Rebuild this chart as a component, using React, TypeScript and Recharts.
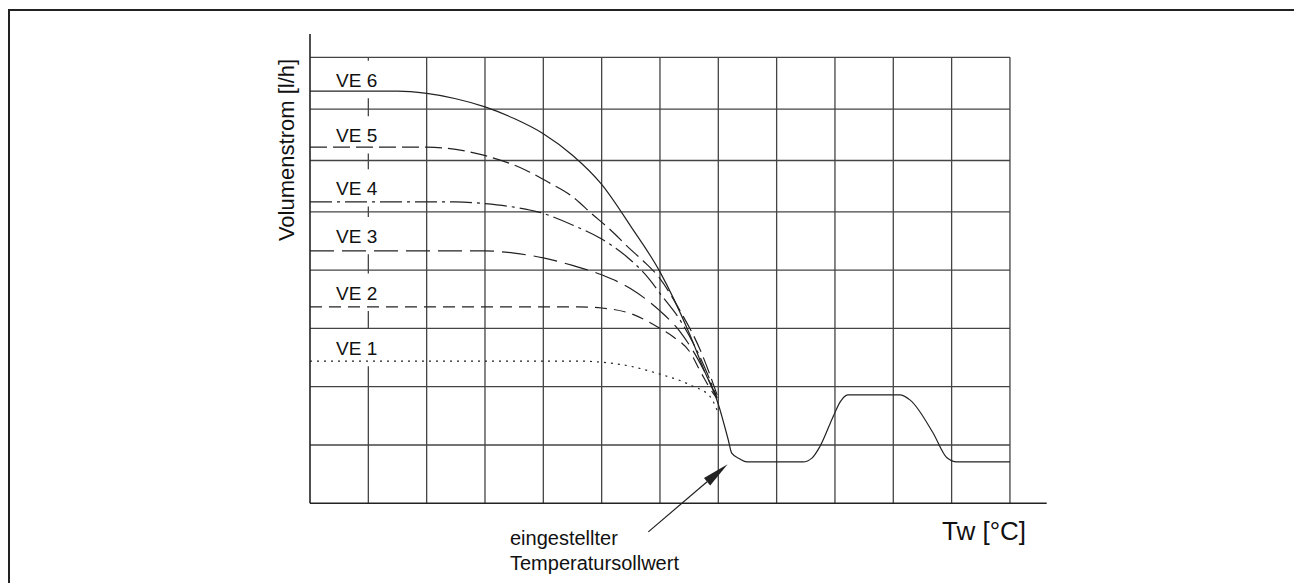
import React from "react";
import { LineChart, Line, XAxis, YAxis, ReferenceLine } from "recharts";

// grid positions (one unit = one column of the drawing)
const gridX = [1, 2, 3, 4, 5, 6, 7, 8, 9, 10, 11, 12];
const gridY = [1, 2, 3, 4, 5, 5.88, 6.76, 7.65];
const axisEndX = 12.63;
const axisEndY = 8.05;

const labelNames = ["VE 1", "VE 2", "VE 3", "VE 4", "VE 5", "VE 6"];
const labelX = 0.8;
const labelY = [2.66, 3.61, 4.58, 5.4, 6.31, 7.26];

const ve6 = [
     { x: 0, y: 7.07 }, { x: 1.5, y: 7.07 }, { x: 2.0, y: 7.03 }, { x: 2.5, y: 6.94 },
     { x: 3.0, y: 6.8 }, { x: 3.5, y: 6.6 }, { x: 4.0, y: 6.34 }, { x: 4.5, y: 5.97 },
     { x: 5.0, y: 5.47 }, { x: 5.5, y: 4.75 }, { x: 6.0, y: 3.97 }, { x: 6.5, y: 2.92 },
     { x: 6.75, y: 2.3 }, { x: 7.0, y: 1.7 }, { x: 7.17, y: 1.09 }, { x: 7.23, y: 0.86 },
     { x: 7.37, y: 0.76 }, { x: 7.49, y: 0.71 }, { x: 8.45, y: 0.71 }, { x: 8.61, y: 0.78 },
     { x: 8.74, y: 0.97 }, { x: 8.97, y: 1.49 }, { x: 9.09, y: 1.74 }, { x: 9.22, y: 1.86 },
     { x: 10.11, y: 1.86 }, { x: 10.29, y: 1.77 }, { x: 10.68, y: 1.21 }, { x: 10.92, y: 0.78 },
     { x: 11.09, y: 0.71 }, { x: 12, y: 0.71 }
];
const ve5 = [
     { x: 0, y: 6.11 }, { x: 2.0, y: 6.11 }, { x: 2.5, y: 6.07 }, { x: 2.94, y: 5.98 },
     { x: 3.71, y: 5.71 }, { x: 4.08, y: 5.51 }, { x: 4.46, y: 5.29 }, { x: 4.85, y: 4.95 },
     { x: 5.14, y: 4.7 }, { x: 5.49, y: 4.36 }, { x: 5.71, y: 4.16 }, { x: 5.98, y: 3.88 },
     { x: 6.34, y: 3.31 }, { x: 6.69, y: 2.63 }, { x: 6.98, y: 1.86 }
];
const ve4 = [
     { x: 0, y: 5.17 }, { x: 2.5, y: 5.17 }, { x: 3.0, y: 5.14 }, { x: 3.5, y: 5.08 },
     { x: 3.94, y: 4.99 }, { x: 4.51, y: 4.77 }, { x: 4.97, y: 4.55 }, { x: 5.43, y: 4.23 },
     { x: 5.83, y: 3.83 }, { x: 6.0, y: 3.6 }, { x: 6.34, y: 3.15 }, { x: 6.69, y: 2.5 },
     { x: 6.98, y: 1.81 }
];
const ve3 = [
     { x: 0, y: 4.33 }, { x: 3.0, y: 4.33 }, { x: 3.5, y: 4.29 }, { x: 4.0, y: 4.21 },
     { x: 4.5, y: 4.08 }, { x: 5.0, y: 3.92 }, { x: 5.5, y: 3.68 }, { x: 6.0, y: 3.3 },
     { x: 6.34, y: 2.95 }, { x: 6.69, y: 2.4 }, { x: 6.96, y: 1.85 }
];
const ve2 = [
     { x: 0, y: 3.37 }, { x: 4.6, y: 3.37 }, { x: 5.0, y: 3.35 }, { x: 5.45, y: 3.27 },
     { x: 6.0, y: 3.0 }, { x: 6.22, y: 2.86 }, { x: 6.51, y: 2.6 }, { x: 6.71, y: 2.23 },
     { x: 6.91, y: 1.89 }, { x: 6.98, y: 1.8 }
];
const ve1 = [
     { x: 0, y: 2.44 }, { x: 4.6, y: 2.44 }, { x: 5.0, y: 2.42 }, { x: 5.5, y: 2.35 },
     { x: 5.95, y: 2.23 }, { x: 6.54, y: 2.02 }, { x: 6.86, y: 1.83 }, { x: 6.99, y: 1.57 }
];

const arrowFrom = { x: 5.8, y: -0.49 };
const arrowTo = { x: 7.16, y: 0.67 };

const ink = "#222";
const gridInk = "#444";
const font = '"Liberation Sans", Arial, Helvetica, sans-serif';

const series = [
     { data: ve1, dash: "2 5" },
     { data: ve2, dash: "12 7" },
     { data: ve3, dash: "24 8" },
     { data: ve4, dash: "22 5 3 5" },
     { data: ve5, dash: "17 6" },
     { data: ve6, dash: undefined }
];

// the grid line that runs through the VE labels is left open behind them
const gapBelow = 0.31;
const gapAbove = 0.33;
const labelColumnPieces: number[][] = [];
let from = 0;
labelY.forEach((ly) => {
     labelColumnPieces.push([from, ly - gapBelow]);
     from = ly + gapAbove;
});
labelColumnPieces.push([from, gridY[gridY.length - 1]]);

const Arrow = (props: any) => {
     const { x1, y1, x2, y2 } = props;
     const ang = Math.atan2(y2 - y1, x2 - x1);
     const len = 27;
     const half = 4.8;
     const bx = x2 - len * Math.cos(ang);
     const by = y2 - len * Math.sin(ang);
     const px = -Math.sin(ang) * half;
     const py = Math.cos(ang) * half;
     return (
          <g>
               <line x1={x1} y1={y1} x2={bx} y2={by} stroke={ink} strokeWidth={1.2} />
               <polygon
                    points={`${x2},${y2} ${bx + px},${by + py} ${bx - px},${by - py}`}
                    fill={ink}
               />
          </g>
     );
};

const App = () => {
     const top = gridY[gridY.length - 1];
     const right = gridX[gridX.length - 1];
     return (
          <div
               style={{
                    position: "fixed",
                    left: 0,
                    top: 0,
                    width: 1294,
                    height: 583,
                    overflow: "hidden",
                    background: "#fff",
                    fontFamily: font,
                    color: "#111"
               }}
          >
               <div
                    style={{
                         position: "absolute",
                         left: 8,
                         top: 9,
                         width: 1400,
                         height: 700,
                         borderLeft: `2px solid ${ink}`,
                         borderTop: `2px solid ${ink}`
                    }}
               />
               <div style={{ position: "absolute", left: 0, top: 0 }}>
                    <LineChart
                         width={1294}
                         height={583}
                         margin={{ top: 34, right: 247.3, bottom: 79.7, left: 310 }}
                    >
                         <XAxis
                              type="number"
                              dataKey="x"
                              domain={[0, axisEndX]}
                              allowDataOverflow
                              hide
                         />
                         <YAxis
                              type="number"
                              dataKey="y"
                              domain={[0, axisEndY]}
                              allowDataOverflow
                              hide
                         />
                         {gridX
                              .filter((v) => v !== 1)
                              .map((v) => (
                                   <ReferenceLine
                                        key={"gx" + v}
                                        segment={[
                                             { x: v, y: 0 },
                                             { x: v, y: top }
                                        ]}
                                        stroke={gridInk}
                                        strokeWidth={1.3}
                                   />
                              ))}
                         {labelColumnPieces.map(([a, b], i) => (
                              <ReferenceLine
                                   key={"gp" + i}
                                   segment={[
                                        { x: 1, y: a },
                                        { x: 1, y: b }
                                   ]}
                                   stroke={gridInk}
                                   strokeWidth={1.3}
                              />
                         ))}
                         {gridY.map((v) => (
                              <ReferenceLine
                                   key={"gy" + v}
                                   segment={[
                                        { x: 0, y: v },
                                        { x: right, y: v }
                                   ]}
                                   stroke={gridInk}
                                   strokeWidth={1.3}
                              />
                         ))}
                         {labelNames.map((name, i) => (
                              <ReferenceLine
                                   key={name}
                                   segment={[
                                        { x: labelX - 0.01, y: labelY[i] },
                                        { x: labelX + 0.01, y: labelY[i] }
                                   ]}
                                   stroke="none"
                                   label={{
                                        value: name,
                                        position: "center",
                                        fill: "#111",
                                        fontSize: 19,
                                        fontFamily: font
                                   }}
                              />
                         ))}
                         {series.map((s, i) => (
                              <Line
                                   key={"ve" + i}
                                   data={s.data}
                                   dataKey="y"
                                   type="monotone"
                                   dot={false}
                                   activeDot={false}
                                   stroke={ink}
                                   strokeWidth={1.2}
                                   strokeDasharray={s.dash}
                                   isAnimationActive={false}
                              />
                         ))}
                         <ReferenceLine
                              segment={[
                                   { x: 0, y: 0 },
                                   { x: 0, y: axisEndY }
                              ]}
                              ifOverflow="visible"
                              stroke={ink}
                              strokeWidth={1.6}
                         />
                         <ReferenceLine
                              segment={[
                                   { x: 0, y: 0 },
                                   { x: axisEndX, y: 0 }
                              ]}
                              ifOverflow="visible"
                              stroke={ink}
                              strokeWidth={1.6}
                         />
                         <ReferenceLine
                              segment={[arrowFrom, arrowTo]}
                              ifOverflow="visible"
                              shape={Arrow}
                         />
                    </LineChart>
               </div>
               <div
                    style={{
                         position: "absolute",
                         left: 286.5,
                         top: 149.5,
                         transform: "translate(-50%, -50%) rotate(-90deg)",
                         fontSize: 22,
                         lineHeight: 1,
                         whiteSpace: "nowrap"
                    }}
               >
                    Volumenstrom [l/h]
               </div>
               <div
                    style={{
                         position: "absolute",
                         left: 942,
                         top: 518,
                         fontSize: 26,
                         lineHeight: 1,
                         whiteSpace: "nowrap"
                    }}
               >
                    Tw [°C]
               </div>
               <div
                    style={{
                         position: "absolute",
                         left: 510,
                         top: 526,
                         fontSize: 20,
                         lineHeight: "25px",
                         whiteSpace: "nowrap"
                    }}
               >
                    eingestellter
                    <br />
                    Temperatursollwert
               </div>
          </div>
     );
};

export default App;
